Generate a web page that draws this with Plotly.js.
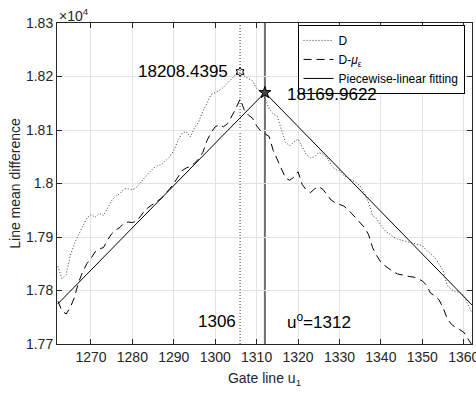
<!DOCTYPE html>
<html>
<head>
<meta charset="utf-8">
<script src="https://cdn.plot.ly/plotly-3.0.1.min.js"></script>
<style>html,body{margin:0;padding:0;background:#fff;}#chart{width:476px;height:393px;}</style>
</head>
<body>
<div id="chart"></div>
<script>
// ---- data ----
const uStart = 1262;
const D = [17845,17822,17830,17865,17888,17905,17920,17935,17942,17937,
           17944,17940,17955,17968,17977,17981,17990,17990,17988,17993,
           18002,18012,18020,18028,18033,18035,18042,18050,18062,18080,
           18094,18097,18087,18104,18115,18135,18150,18166,18170,18174,
           18180,18188,18196,18204,18208,18201,18196,18192,18178,18172,
           18160,18140,18130,18125,18100,18077,18070,18078,18083,18068,
           18054,18048,18050,18058,18055,18048,18035,18026,18024,18015,
           18010,18006,18002,17995,17982,17965,17940,17934,17922,17912,
           17906,17900,17896,17894,17892,17890,17888,17887,17884,17875,
           17868,17862,17850,17838,17810,17802,17798,17797,17790,17775,
           17758];
const DMu = [17780,17762,17756,17768,17787,17815,17835,17850,17860,17872,
             17878,17880,17894,17906,17913,17918,17926,17928,17927,17930,
             17939,17950,17956,17962,17967,17972,17980,17990,18000,18012,
             18024,18029,18032,18038,18046,18058,18080,18095,18106,18110,
             18106,18112,18125,18140,18158,18138,18128,18122,18108,18098,
             18093,18088,18062,18045,18025,18010,18006,18012,18022,17998,
             17988,17983,17990,17994,17989,17978,17969,17964,17961,17958,
             17952,17944,17935,17926,17918,17905,17880,17865,17853,17846,
             17840,17835,17831,17829,17828,17826,17825,17822,17818,17810,
             17795,17790,17783,17768,17748,17737,17731,17727,17722,17710,
             17698];
const fitU = [1262, 1312, 1362];
const fitV = [17775, 18169.9622, 17773];
const peakU = 1306, peakV = 18208.4395;
const breakU = 1312, breakV = 18169.9622;
const xTicks = [1270,1280,1290,1300,1310,1320,1330,1340,1350,1360];
const yTickVals = [17700,17800,17900,18000,18100,18200,18300];
const yTickText = ['1.77','1.78','1.79','1.8','1.81','1.82','1.83'];
const legendNames = ['D', 'D-<i>μ</i><sub>ε</sub>', 'Piecewise-linear fitting'];

const U = D.map((_, i) => uStart + i);
const FONT = 'Liberation Sans, Arial, Helvetica, sans-serif';

const traces = [
  {x: U, y: D, mode: 'lines', name: legendNames[0],
   line: {color: '#3a3a3a', width: 1, dash: '1px,2px'}},
  {x: U, y: DMu, mode: 'lines', name: legendNames[1],
   line: {color: '#000', width: 1, dash: '8px,5px'}},
  {x: fitU, y: fitV, mode: 'lines', name: legendNames[2],
   line: {color: '#000', width: 1}},
  {x: [peakU], y: [peakV], mode: 'markers', showlegend: false,
   marker: {symbol: 'hexagram-open', size: 7, color: '#000', line: {width: 1, color: '#000'}}},
  {x: [breakU], y: [breakV], mode: 'markers', showlegend: false,
   marker: {symbol: 'star', size: 9, color: '#444', line: {width: 1, color: '#000'}}}
];

const layout = {
  width: 476, height: 393,
  margin: {l: 57, r: 4, t: 23, b: 49},
  paper_bgcolor: '#fff', plot_bgcolor: '#fff',
  font: {family: FONT, size: 14, color: '#262626'},
  showlegend: true,
  legend: {x: 0.982, y: 0.994, xanchor: 'right', yanchor: 'top',
           bgcolor: '#fff', bordercolor: '#000', borderwidth: 1,
           font: {family: FONT, size: 12, color: '#000'},
           tracegroupgap: 0, itemwidth: 30},
  xaxis: {range: [1261.8, 1362], tickvals: xTicks, ticks: 'inside', ticklen: 5,
          tickcolor: '#262626', showline: true, linecolor: '#262626', linewidth: 1,
          mirror: 'ticks', showgrid: true, gridcolor: '#e3e3e3', zeroline: false,
          ticklabeloverflow: 'allow',
          tickfont: {size: 14, color: '#262626'},
          title: {text: 'Gate line u<sub>1</sub>', font: {size: 14, color: '#262626'}, standoff: 9}},
  yaxis: {range: [17700, 18300], tickvals: yTickVals, ticktext: yTickText,
          ticks: 'inside', ticklen: 5, tickcolor: '#262626',
          showline: true, linecolor: '#262626', linewidth: 1, mirror: 'ticks',
          showgrid: true, gridcolor: '#e3e3e3', zeroline: false,
          tickfont: {size: 14, color: '#262626'},
          title: {text: 'Line mean difference', font: {size: 14, color: '#262626'}, standoff: 2}},
  shapes: [
    {type: 'line', xref: 'x', yref: 'paper', x0: peakU, x1: peakU, y0: 0, y1: 1,
     line: {color: '#333', width: 1, dash: '1px,2px'}, layer: 'below'},
    {type: 'line', xref: 'x', yref: 'paper', x0: breakU, x1: breakU, y0: 0, y1: 1,
     line: {color: '#707070', width: 2}, layer: 'below'}
  ],
  annotations: [
    {xref: 'paper', yref: 'paper', x: 0, y: 1, xanchor: 'left', yanchor: 'bottom',
     text: '×10<sup>4</sup>', showarrow: false, font: {size: 14, color: '#262626'}, yshift: -3},
    {xref: 'x', yref: 'y', x: peakU, y: peakV, xanchor: 'right', yanchor: 'middle',
     xshift: -10, text: '18208.4395', showarrow: false, font: {size: 17, color: '#000'}},
    {xref: 'x', yref: 'y', x: breakU, y: breakV, xanchor: 'left', yanchor: 'middle',
     xshift: 20, yshift: -2, text: '18169.9622', showarrow: false, font: {size: 17, color: '#000'}},
    {xref: 'x', yref: 'paper', x: peakU, y: 0.071, xanchor: 'right', yanchor: 'middle',
     xshift: -2, text: '1306', showarrow: false, font: {size: 17, color: '#000'}},
    {xref: 'x', yref: 'paper', x: breakU, y: 0.071, xanchor: 'left', yanchor: 'middle',
     xshift: 20, text: 'u<sup>o</sup>=1312', showarrow: false, font: {size: 17, color: '#000'}}
  ]
};

Plotly.newPlot('chart', traces, layout, {displayModeBar: false, staticPlot: true});
</script>
</body>
</html>
